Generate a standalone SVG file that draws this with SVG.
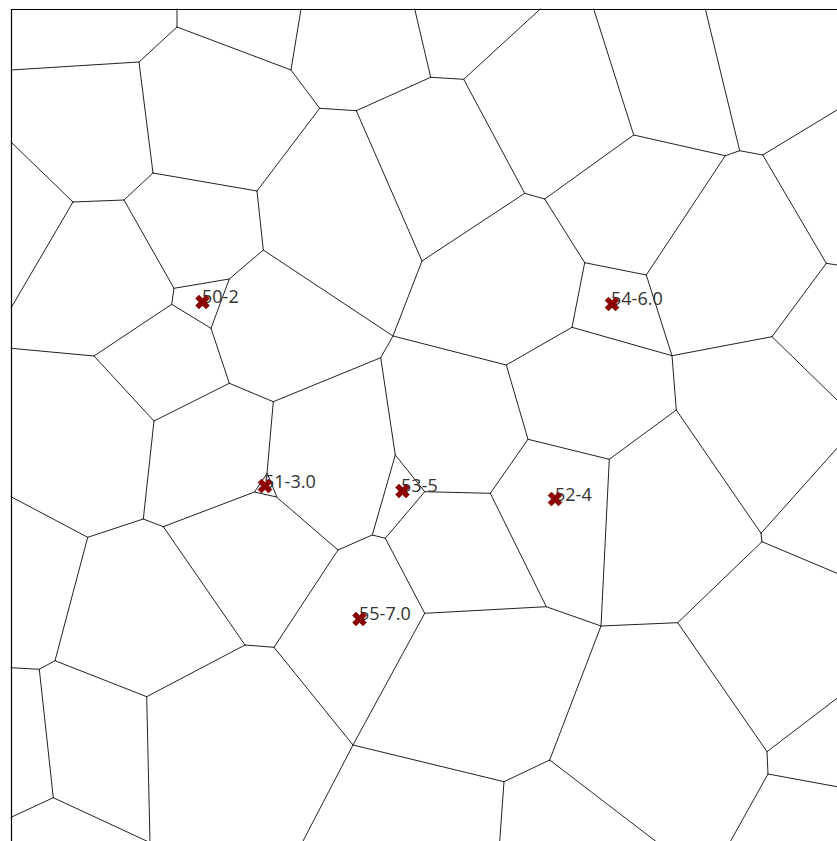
<svg xmlns="http://www.w3.org/2000/svg" xmlns:xlink="http://www.w3.org/1999/xlink" width="837" height="841" viewBox="0 0 837 841">
<style>
.e{stroke:#222;stroke-width:1;fill:none;stroke-linecap:round}
.f{stroke:#000;stroke-width:1.2;fill:none}
.lbl{font-family:"Open Sans","Noto Sans",sans-serif;font-size:18px;fill:#333}
.mk{fill:#8b0000;stroke:#7a0000;stroke-width:0.5}
</style>
<defs>
<path id="xm" d="M-3.5,-7 L0,-3.5 L3.5,-7 L7,-3.5 L3.5,0 L7,3.5 L3.5,7 L0,3.5 L-3.5,7 L-7,3.5 L-3.5,0 L-7,-3.5 Z"/>
</defs>
<rect width="837" height="841" fill="#fff"/>
<g id="connectors" class="e">
<path d="M177,27L177,9M177,27L139,62M177,27L291,70"/>
<path d="M139,62L11,70M139,62L153,173"/>
<path d="M153,173L257,191M153,173L124,200"/>
<path d="M257,191L319.7,108.3M257,191L263.3,250"/>
<path d="M73,202L11,142M73,202L124,200M73,202L11,308"/>
<path d="M124,200L174,288.3"/>
<path d="M291,70L301,9M291,70L319.7,108.3"/>
<path d="M319.7,108.3L356.3,110.7"/>
<path d="M356.3,110.7L430.7,77.3M356.3,110.7L422,261"/>
<path d="M430.7,77.3L414.7,9M430.7,77.3L463.7,79.3"/>
<path d="M463.7,79.3L540.3,9M463.7,79.3L524.7,193.3"/>
<path d="M524.7,193.3L544.7,199M524.7,193.3L422,261"/>
<path d="M544.7,199L633.7,135M544.7,199L584.7,262.7"/>
<path d="M633.7,135L593.7,9M633.7,135L725.3,155.7"/>
<path d="M725.3,155.7L739.7,150.7M725.3,155.7L646.3,275"/>
<path d="M739.7,150.7L705.3,9M739.7,150.7L762.7,155"/>
<path d="M762.7,155L837,110M762.7,155L826.3,263.3"/>
<path d="M584.7,262.7L646.3,275M584.7,262.7L572,327.3"/>
<path d="M646.3,275L672,355.7"/>
<path d="M572,327.3L506.3,365M572,327.3L672,355.7"/>
<path d="M672,355.7L772,336.7M672,355.7L676.3,410"/>
<path d="M772,336.7L826.3,263.3M772,336.7L837,400"/>
<path d="M826.3,263.3L837,265"/>
<path d="M676.3,410L609.3,459.3M676.3,410L761,533.3"/>
<path d="M174,288.3L229.3,279M174,288.3L171.7,304.3"/>
<path d="M229.3,279L263.3,250M229.3,279L211,328.3"/>
<path d="M263.3,250L393,336"/>
<path d="M393,336L422,261M393,336L380.7,357.7M393,336L506.3,365"/>
<path d="M171.7,304.3L211,328.3M171.7,304.3L94,356"/>
<path d="M211,328.3L229.3,383.3"/>
<path d="M94,356L11,348.3M94,356L154,421"/>
<path d="M154,421L229.3,383.3M154,421L143.3,519"/>
<path d="M229.3,383.3L273.3,401.7"/>
<path d="M273.3,401.7L380.7,357.7M273.3,401.7L267,473.5"/>
<path d="M380.7,357.7L395.3,455"/>
<path d="M506.3,365L528,439.3"/>
<path d="M143.3,519L87.7,537.3M143.3,519L163.3,526.7"/>
<path d="M87.7,537.3L11,496.7M87.7,537.3L55,660.7"/>
<path d="M163.3,526.7L254.5,492M163.3,526.7L245,645"/>
<path d="M267,473.5L254.5,492L276.5,497Z"/>
<path d="M276.5,497L338,550"/>
<path d="M395.3,455L424.7,491.7M395.3,455L372.3,535"/>
<path d="M424.7,491.7L385.3,538.3M424.7,491.7L490.3,493.3"/>
<path d="M372.3,535L385.3,538.3M372.3,535L338,550"/>
<path d="M385.3,538.3L424.7,613.3"/>
<path d="M490.3,493.3L528,439.3M490.3,493.3L546.3,606.7"/>
<path d="M528,439.3L609.3,459.3"/>
<path d="M546.3,606.7L424.7,613.3M546.3,606.7L601,626"/>
<path d="M424.7,613.3L353,745"/>
<path d="M338,550L274,647.3"/>
<path d="M609.3,459.3L601,626"/>
<path d="M601,626L677.7,622.7M601,626L549.7,760"/>
<path d="M677.7,622.7L762,541.7M677.7,622.7L767,751.7"/>
<path d="M761,533.3L762,541.7M761,533.3L837,448.3"/>
<path d="M762,541.7L837,573.3"/>
<path d="M55,660.7L39.3,669.3M55,660.7L146.7,696.7"/>
<path d="M39.3,669.3L11,667.7M39.3,669.3L53.3,797.7"/>
<path d="M53.3,797.7L11,817.3M53.3,797.7L151,843"/>
<path d="M146.7,696.7L150,843M146.7,696.7L245,645"/>
<path d="M245,645L274,647.3"/>
<path d="M274,647.3L353,745"/>
<path d="M353,745L302,843M353,745L504,781.7"/>
<path d="M504,781.7L549.7,760M504,781.7L499.6,843"/>
<path d="M549.7,760L658,843"/>
<path d="M767,751.7L768,774M767,751.7L837,698.3"/>
<path d="M768,774L837,786.7M768,774L729.5,843"/>
</g>
<g id="frame" class="f">
<path d="M11.5,841L11.5,9.5L837,9.5"/>
</g>
<g id="S0"><text class="lbl" x="202" y="303">50-2</text><use href="#xm" class="mk" x="202.5" y="302"/></g>
<g id="S1"><text class="lbl" x="264" y="488">51-3.0</text><use href="#xm" class="mk" x="265" y="486"/></g>
<g id="S2"><text class="lbl" x="555" y="501">52-4</text><use href="#xm" class="mk" x="555" y="499"/></g>
<g id="S3"><text class="lbl" x="401" y="492">53-5</text><use href="#xm" class="mk" x="402.5" y="491"/></g>
<g id="S4"><text class="lbl" x="611" y="305">54-6.0</text><use href="#xm" class="mk" x="612" y="304"/></g>
<g id="S5"><text class="lbl" x="359" y="620">55-7.0</text><use href="#xm" class="mk" x="359.5" y="619"/></g>
</svg>
